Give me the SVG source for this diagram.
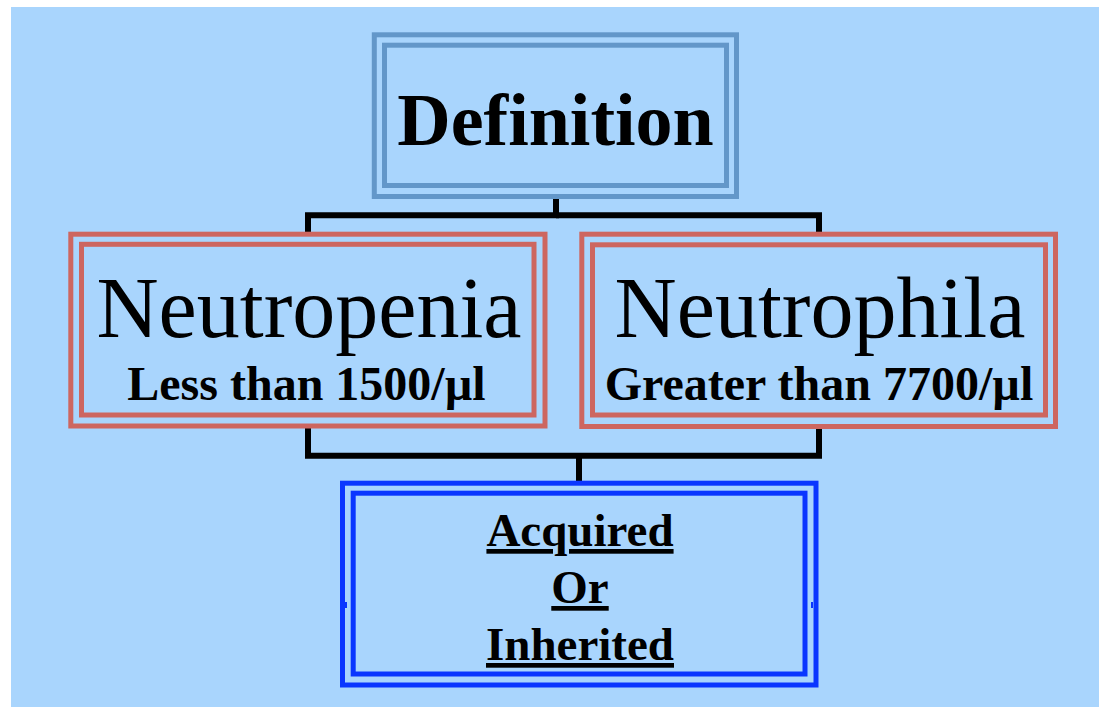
<svg xmlns="http://www.w3.org/2000/svg" width="1099" height="707" viewBox="0 0 1099 707">
  <style>
    .bg { fill: #a9d5fd; }
    .box { fill: none; stroke-width: 5; }
    .def { stroke: #6397c9; }
    .red { stroke: #cd6660; }
    .blue { stroke: #0a36ff; }
    .conn { fill: none; stroke: #000; stroke-width: 6; stroke-linejoin: miter; stroke-linecap: butt; }
    text { font-family: "Liberation Serif", "Times New Roman", serif; fill: #000; text-anchor: middle; }
    .b { font-weight: bold; }
    .u { text-decoration: underline; }
  </style>
  <rect x="0" y="0" width="1099" height="707" fill="#ffffff"/>
  <rect class="bg" x="11" y="7" width="1088" height="700"/>

  <g id="connectors">
    <polyline class="conn" points="556,199 556,215.3 308,215.3 308,232"/>
    <polyline class="conn" points="556,215.3 819,215.3 819,232"/>
    <polyline class="conn" points="308,428 308,455.7 819,455.7 819,428"/>
    <line class="conn" x1="579" y1="455.7" x2="579" y2="481"/>
  </g>

  <g id="definition">
    <rect class="box def" x="374.3" y="34.8" width="362.2" height="161.7" fill="#a9d5fd"/>
    <rect class="box def" x="384.5" y="45.2" width="342" height="140.3"/>
    <text class="b" x="555.5" y="145" font-size="74">Definition</text>
  </g>

  <g id="neutropenia">
    <rect class="box red" x="70.8" y="234.2" width="474.2" height="191.8" fill="#a9d5fd"/>
    <rect class="box red" x="81.5" y="244.3" width="452.5" height="170.7"/>
    <text x="309" y="336.7" font-size="86">Neutropenia</text>
    <text class="b" x="306.5" y="400" font-size="48">Less than 1500/µl</text>
  </g>

  <g id="neutrophila">
    <rect class="box red" x="581.8" y="234.2" width="473.7" height="192.3" fill="#a9d5fd"/>
    <rect class="box red" x="592.5" y="244.8" width="453" height="170.2"/>
    <text x="820" y="336.7" font-size="86">Neutrophila</text>
    <text class="b" x="819" y="400" font-size="48">Greater than 7700/µl</text>
  </g>

  <g id="origin">
    <rect class="box blue" x="342.5" y="483.2" width="473.5" height="201.8" fill="#a9d5fd"/>
    <rect class="box blue" x="353.2" y="493.2" width="451.8" height="180.8"/>
    <rect x="345" y="602" width="2" height="6" fill="#0a36ff"/>
    <rect x="811" y="602" width="2" height="6" fill="#0a36ff"/>
    <text class="b u" x="580" y="546" font-size="47">Acquired</text>
    <text class="b u" x="580" y="603" font-size="47">Or</text>
    <text class="b u" x="580" y="660" font-size="47">Inherited</text>
  </g>
</svg>
